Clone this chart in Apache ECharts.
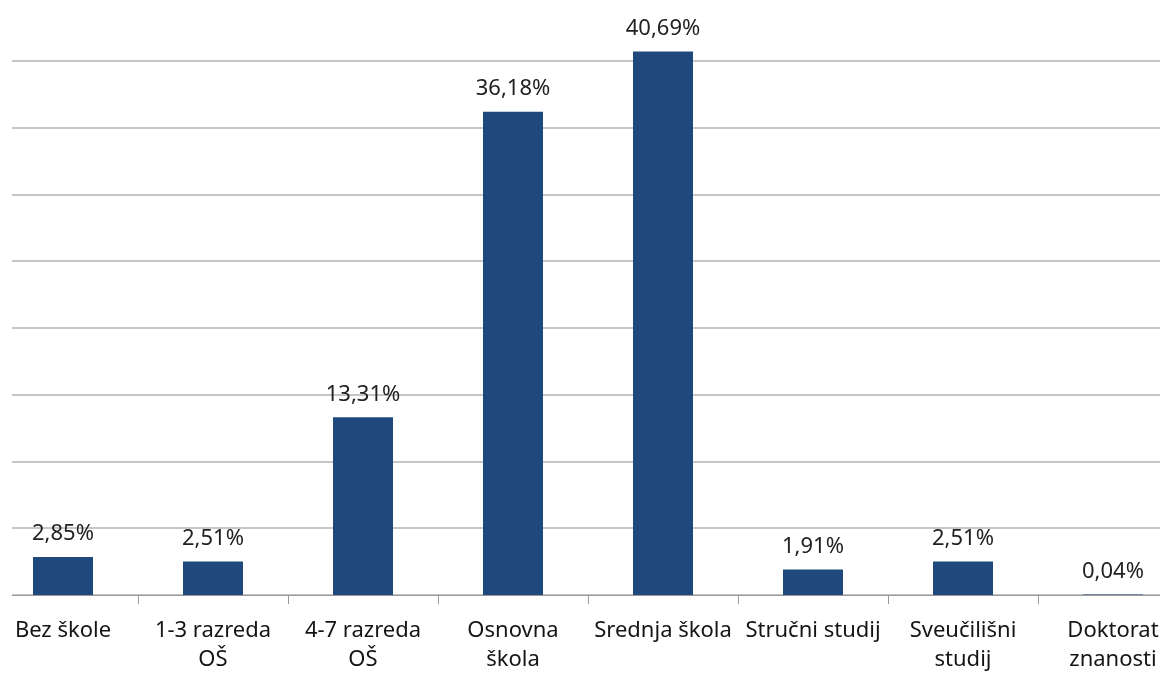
<!DOCTYPE html>
<html>
<head>
<meta charset="utf-8">
<script src="https://cdn.jsdelivr.net/npm/echarts@6/dist/echarts.min.js"></script>
<style>
html,body{margin:0;padding:0;background:#ffffff;overflow:hidden;width:1160px;height:674px;position:relative;}
#chart{position:absolute;left:-12px;top:-6px;width:1200px;height:680px;}
</style>
</head>
<body>
<div id="chart"></div>
<script>
const categories = ["Bez škole", "1-3 razreda\nOŠ", "4-7 razreda\nOŠ", "Osnovna\nškola", "Srednja škola", "Stručni studij", "Sveučilišni\nstudij", "Doktorat\nznanosti"];
const values = [2.85, 2.51, 13.31, 36.18, 40.69, 1.91, 2.51, 0.04];
const yTicks = [0, 5, 10, 15, 20, 25, 30, 35, 40, 45];

const chart = echarts.init(document.getElementById('chart'), null, {renderer: 'canvas'});
chart.setOption({
  animation: false,
  backgroundColor: '#ffffff',
  grid: {left: 0, right: 0, top: 0, height: 604, containLabel: false},
  graphic: [{
    type: 'rect', left: 0, top: 0, z: 100,
    shape: {width: 24, height: 606},
    style: {fill: '#ffffff'}
  }],
  xAxis: {
    type: 'category',
    data: categories,
    axisLine: {show: true, lineStyle: {color: '#9a9a9a', width: 1}},
    axisTick: {show: true, length: 9, lineStyle: {color: '#9a9a9a'}},
    axisLabel: {
      interval: 0, color: '#151515', fontFamily: 'Noto Sans', fontSize: 22,
      lineHeight: 29, margin: 21
    }
  },
  yAxis: {
    type: 'value',
    min: yTicks[0], max: yTicks[yTicks.length - 1], interval: 5,
    axisLine: {show: false},
    axisTick: {show: false},
    axisLabel: {show: false},
    splitLine: {show: true, lineStyle: {color: '#b3b3b3', width: 1.5}}
  },
  series: [{
    type: 'bar',
    data: values,
    barWidth: '40%',
    itemStyle: {color: '#1f497d'},
    label: {
      show: true, position: 'top', distance: 12,
      color: '#222222', fontFamily: 'Noto Sans', fontSize: 22,
      formatter: p => p.value.toFixed(2).replace('.', ',') + '%'
    }
  }]
});
</script>
</body>
</html>
